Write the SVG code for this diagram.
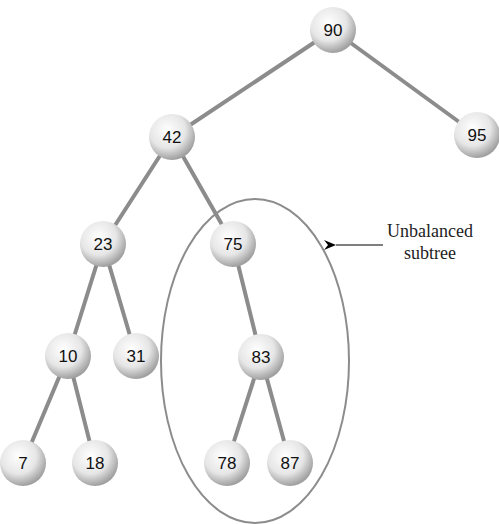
<svg xmlns="http://www.w3.org/2000/svg" width="499" height="524" viewBox="0 0 499 524">
<defs>
<radialGradient id="ball" cx="0.4" cy="0.35" r="0.65">
<stop offset="0" stop-color="#ffffff"/>
<stop offset="0.6" stop-color="#e6e6e6"/>
<stop offset="1" stop-color="#a0a0a0"/>
</radialGradient>
<marker id="arr" markerWidth="12" markerHeight="10" refX="0" refY="5" orient="auto" markerUnits="userSpaceOnUse" viewBox="0 0 12 10">
<path d="M12,0 L0,5 L12,10 L8,5 Z" fill="#000"/>
</marker>
</defs>
<style>
.e{stroke:#8c8c8c;stroke-width:4;fill:none;stroke-linecap:round}
.n circle{fill:url(#ball)}
.n text{font-family:"Liberation Sans",Arial,sans-serif;font-size:17px;text-anchor:middle;fill:#111}
.lbl{font-family:"Liberation Serif","Times New Roman",serif;font-size:18px;text-anchor:middle;fill:#222}
</style>
<rect width="499" height="524" fill="#fff"/>
<g id="connectors">
<line class="e" x1="333" y1="30" x2="172" y2="137"/>
<line class="e" x1="333" y1="30" x2="477" y2="135"/>
<line class="e" x1="172" y1="137" x2="103" y2="244"/>
<line class="e" x1="172" y1="137" x2="233" y2="244"/>
<line class="e" x1="103" y1="244" x2="68" y2="356"/>
<line class="e" x1="103" y1="244" x2="136" y2="356"/>
<line class="e" x1="233" y1="244" x2="261" y2="357"/>
<line class="e" x1="68" y1="356" x2="23" y2="463"/>
<line class="e" x1="68" y1="356" x2="95" y2="463"/>
<line class="e" x1="261" y1="357" x2="227" y2="463"/>
<line class="e" x1="261" y1="357" x2="290" y2="463"/>
</g>
<g id="n90" class="n"><circle cx="333" cy="30" r="23"/><text x="333" y="36">90</text></g>
<g id="n95" class="n"><circle cx="477" cy="135" r="23"/><text x="477" y="141">95</text></g>
<g id="n42" class="n"><circle cx="172" cy="137" r="23"/><text x="172" y="143">42</text></g>
<g id="n23" class="n"><circle cx="103" cy="244" r="23"/><text x="103" y="250">23</text></g>
<g id="n75" class="n"><circle cx="233" cy="244" r="23"/><text x="233" y="250">75</text></g>
<g id="n10" class="n"><circle cx="68" cy="356" r="23"/><text x="68" y="362">10</text></g>
<g id="n31" class="n"><circle cx="136" cy="356" r="23"/><text x="136" y="362">31</text></g>
<g id="n83" class="n"><circle cx="261" cy="357" r="23"/><text x="261" y="363">83</text></g>
<g id="n7" class="n"><circle cx="23" cy="463" r="23"/><text x="23" y="469">7</text></g>
<g id="n18" class="n"><circle cx="95" cy="463" r="23"/><text x="95" y="469">18</text></g>
<g id="n78" class="n"><circle cx="227" cy="463" r="23"/><text x="227" y="469">78</text></g>
<g id="n87" class="n"><circle cx="290" cy="463" r="23"/><text x="290" y="469">87</text></g>
<g id="annotation">
<ellipse cx="255" cy="361" rx="94" ry="162" fill="none" stroke="#8c8c8c" stroke-width="2"/>
<line x1="383" y1="245" x2="336" y2="245" stroke="#000" stroke-width="1.2" marker-end="url(#arr)"/>
<text class="lbl" x="430" y="237">Unbalanced</text>
<text class="lbl" x="430" y="259">subtree</text>
</g>
</svg>
